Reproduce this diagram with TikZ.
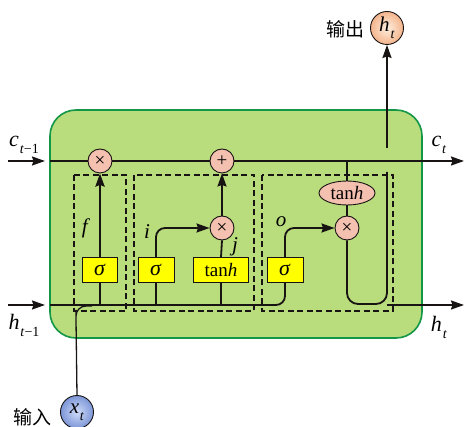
\documentclass[tikz,border=0pt]{standalone}
\usepackage{fontspec}
\setmainfont{Liberation Serif}
\newfontfamily\cjk{Noto Sans CJK SC}
\usetikzlibrary{arrows.meta,shapes.geometric,calc}
\definecolor{cellgreen}{RGB}{185,220,125}
\definecolor{cellborder}{RGB}{20,150,72}
\definecolor{gatepink}{RGB}{244,192,176}
\definecolor{gateyellow}{RGB}{255,255,0}
\definecolor{lineblack}{RGB}{25,20,20}
\definecolor{xtin}{RGB}{205,218,248}
\definecolor{xtout}{RGB}{125,150,215}
\definecolor{htin}{RGB}{253,238,222}
\definecolor{htout}{RGB}{244,180,140}
\newcommand\vsub[2]{\textit{#1}\kern0.04em\raisebox{-0.32em}{\fontsize{14}{16}\selectfont #2}}
\tikzset{
  lbl/.style={font=\fontsize{22}{24}\selectfont, inner sep=0pt},
  glbl/.style={font=\fontsize{21}{24}\selectfont, inner sep=0pt},
  opnode/.style={circle, draw=lineblack, line width=0.9pt, fill=gatepink, minimum size=24pt, inner sep=0pt, font=\fontsize{19}{21}\selectfont},
  actbox/.style={rectangle, draw=lineblack, line width=0.9pt, fill=gateyellow, minimum height=25pt, inner sep=0pt, font=\fontsize{22}{24}\selectfont},
  gatebox/.style={draw=lineblack, line width=1.4pt, dash pattern=on 6pt off 3.5pt},
  wire/.style={draw=lineblack, line width=1.8pt},
  arr/.style={wire, -{Stealth[length=13pt,width=9pt,inset=1.5pt]}},
  iocirc/.style={circle, draw=lineblack, line width=0.9pt, minimum size=33pt, inner sep=0pt, font=\fontsize{21}{24}\selectfont},
}
\begin{document}
\begin{tikzpicture}[x=1pt,y=-1pt]
\useasboundingbox (0,0) rectangle (464,427);
% cell body
\draw[fill=cellgreen, draw=cellborder, line width=1.6pt, rounded corners=26pt] (50,110) rectangle (422,338);
% dashed gate boxes
\draw[gatebox] (74,175) rectangle (126,311);
\draw[gatebox] (134,175) rectangle (254,311);
\draw[gatebox] (262,175) rectangle (393,311);
% nodes
\node[opnode] (mulf) at (100,161) {×};
\node[opnode] (add) at (222,161) {+};
\node[opnode] (muli) at (222,228) {×};
\node[opnode] (mulo) at (347,228) {×};
\node[ellipse, draw=lineblack, line width=0.9pt, fill=gatepink, minimum width=56pt, minimum height=24pt, inner sep=0pt, font=\fontsize{19}{21}\selectfont] (tanhc) at (347,193) {tan\textit{h}};
\node[actbox, minimum width=35pt] (sf) at (100,270) {\textit{σ}};
\node[actbox, minimum width=36pt] (si) at (156,270) {\textit{σ}};
\node[actbox, minimum width=55pt, font=\fontsize{19}{21}\selectfont] (tg) at (221,270) {tan\textit{h}};
\node[actbox, minimum width=36pt] (so) at (285,270) {\textit{σ}};
\node[iocirc, inner color=xtin, outer color=xtout] (xt) at (77,412) {\vsub{x}{\textit{t}}};
\node[iocirc, inner color=htin, outer color=htout] (ht) at (387,28) {\vsub{h}{\textit{t}}};
% coordinates
\coordinate (cin0) at (8,161);
\coordinate (cin1) at (45,161);
\coordinate (hin0) at (8,305);
\coordinate (hin1) at (45,305);
\coordinate (cl) at (50,161);
\coordinate (cout) at (464,161);
\coordinate (hl) at (50,305);
\coordinate (hout0) at (387,305);
\coordinate (hout) at (464,305);
\coordinate (ftap) at (100,305);
\coordinate (itap) at (156,305);
\coordinate (gtap) at (221,305);
\coordinate (ctap) at (347,161);
\coordinate (uptop) at (387,148);
\coordinate (upbot) at (387,172);
\coordinate (xmerge) at (92,306);
% external arrows
\draw[arr] (cin0) -- (cin1);
\draw[arr] (hin0) -- (hin1);
% cell state line
\draw[wire] (cl) -- (mulf);
\draw[wire] (mulf) -- (add);
\draw[arr] (add) -- (cout);
% hidden line to output gate
\draw[wire, rounded corners=9pt] (hl) -| (so.south);
% x_t input
\draw[draw=lineblack, line width=1.3pt, rounded corners=10pt] (xt.north) -- (76,320) |- (xmerge);
% forget gate
\draw[wire, line width=2.6pt] (ftap) -- (sf.south);
\draw[arr, line width=2.6pt] (sf.north) -- (mulf.south);
% input gate
\draw[wire] (itap) -- (si.south);
\draw[arr, rounded corners=9pt] (si.north) |- (muli.west);
\draw[wire] (gtap) -- (tg.south);
\draw[wire] (tg.north) -- (muli.south);
\draw[arr] (muli.north) -- (add.south);
% output gate
\draw[wire] (ctap) -- (tanhc.north);
\draw[wire] (tanhc.south) -- (mulo.north);
\draw[arr, rounded corners=9pt] (so.north) |- (mulo.west);
\draw[wire, rounded corners=11pt] (mulo.south) -- (347,304) -- (387,304) -- (upbot);
\draw[arr] (uptop) -- (ht.south);
\draw[arr] (hout0) -- (hout);
% labels
\node[lbl] (lc1) at (24,145) {\vsub{c}{\textit{t}−1}};
\node[lbl] (lh1) at (24,325) {\vsub{h}{\textit{t}−1}};
\node[lbl] (lc) at (439,145) {\vsub{c}{\textit{t}}};
\node[lbl] (lh) at (439,327) {\vsub{h}{\textit{t}}};
\node[glbl] (lf) at (86,228) {\textit{f}};
\node[glbl] (li) at (147,232) {\textit{i}};
\node[glbl] (lj) at (235,247) {\textit{j}};
\node[glbl] (lo) at (281,222) {\textit{o}};
\node[lbl, font=\cjk\fontsize{19}{21}\selectfont] (lin) at (32,417) {输入};
\node[lbl, font=\cjk\fontsize{19}{21}\selectfont] (lout) at (345,29) {输出};
\end{tikzpicture}
\end{document}
